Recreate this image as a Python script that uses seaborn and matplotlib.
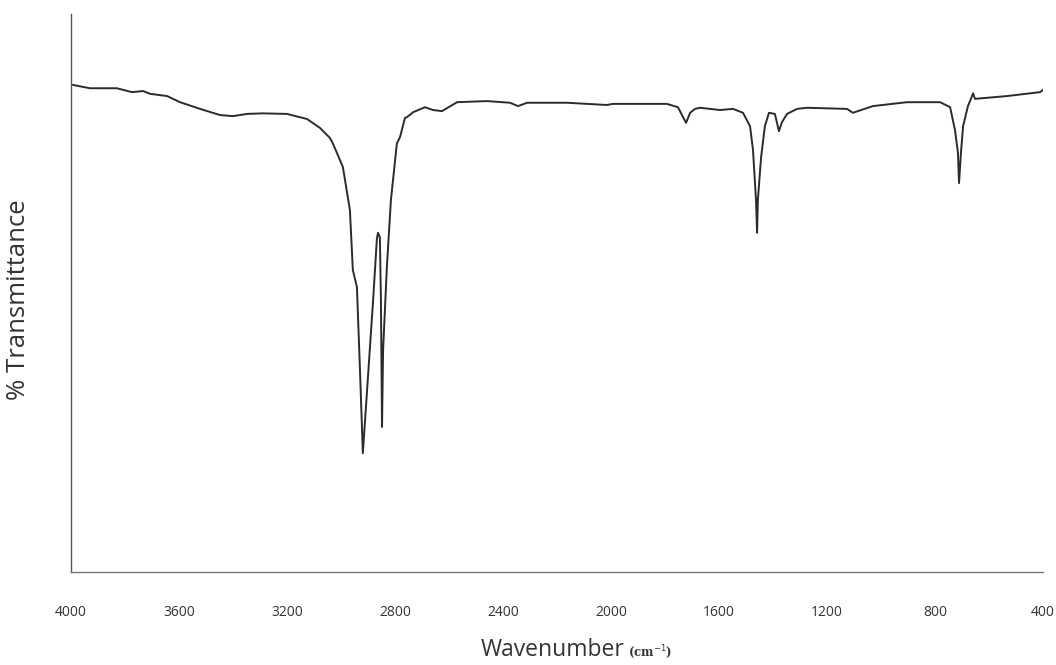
import matplotlib
matplotlib.use("Agg")
import matplotlib.pyplot as plt
import seaborn as sns
import pandas as pd

# IR spectrum (wavenumber in cm^-1, transmittance in %)
wavenumber = [
    3993, 3930, 3830, 3774, 3733, 3707, 3644, 3596, 3522, 3448, 3400, 3348,
    3289, 3200, 3152, 3126, 3078, 3041, 3030, 2993, 2967, 2956, 2941, 2930,
    2919, 2881, 2867, 2863, 2856, 2852, 2848, 2844, 2830, 2815, 2793, 2781,
    2763, 2756, 2733, 2689, 2659, 2626, 2570, 2459, 2374, 2344, 2311, 2163,
    2015, 1993, 1793, 1752, 1722, 1707, 1689, 1670, 1596, 1548, 1511, 1485,
    1474, 1463, 1459, 1456, 1444, 1430, 1415, 1393, 1378, 1367, 1348, 1311,
    1274, 1126, 1104, 1030, 904, 781, 744, 726, 715, 711, 704, 696, 678,
    667, 659, 652, 533, 411, 400,
]
transmittance = [
    87.3, 86.7, 86.7, 86.0, 86.2, 85.7, 85.3, 84.2, 83.0, 81.9, 81.7, 82.1,
    82.2, 82.1, 81.5, 81.2, 79.6, 77.8, 76.8, 72.6, 64.9, 54.1, 51.1, 36.7,
    21.3, 48.7, 59.7, 60.8, 60.0, 48.7, 26.0, 39.8, 54.7, 66.7, 76.8, 78.0,
    81.4, 81.5, 82.4, 83.3, 82.8, 82.6, 84.2, 84.4, 84.1, 83.5, 84.1, 84.1,
    83.7, 83.9, 83.9, 83.3, 80.5, 82.3, 83.0, 83.2, 82.8, 83.0, 82.3, 79.9,
    75.6, 66.7, 60.8, 66.7, 74.4, 79.9, 82.3, 82.1, 79.0, 80.6, 82.1, 83.0,
    83.2, 83.0, 82.3, 83.5, 84.2, 84.2, 83.3, 79.2, 75.1, 69.7, 75.1, 79.9,
    83.5, 84.8, 85.8, 84.8, 85.3, 86.0, 86.4,
]
xtick_values = [4000, 3600, 3200, 2800, 2400, 2000, 1600, 1200, 800, 400]

df = pd.DataFrame({"wavenumber": wavenumber, "transmittance": transmittance})

sns.set_style("white")
plt.rcParams["font.family"] = ["Open Sans", "DejaVu Sans"]

fig = plt.figure(figsize=(10.56, 6.65), dpi=100)
ax = fig.add_axes([0.0672, 0.1398, 0.9205, 0.8391])

sns.lineplot(data=df, x="wavenumber", y="transmittance", ax=ax,
             sort=False, estimator=None, color="#2b2b2b", linewidth=1.4)

ax.set_xlim(4000, 400)
ax.set_ylim(0, 100)
ax.set_xticks(xtick_values)
ax.set_xticklabels([str(v) for v in xtick_values], fontsize=10, color="#333333")
ax.set_yticks([])
ax.tick_params(axis="x", length=0, pad=24)
ax.set_xlabel("")
ax.set_ylabel("")

for side in ("top", "right"):
    ax.spines[side].set_visible(False)
ax.spines["left"].set_color("#555555")
ax.spines["bottom"].set_color("#777777")
ax.spines["left"].set_linewidth(1.0)
ax.spines["bottom"].set_linewidth(1.0)

fig.text(19 / 1056, 1 - 300 / 665, "% Transmittance", rotation=90,
         ha="center", va="center", fontsize=18.5, color="#333333")
fig.text(625 / 1056, 1 - 656 / 665, "Wavenumber", ha="right", va="baseline",
         fontsize=16.5, color="#333333")
fig.text(628 / 1056, 1 - 656 / 665, "(cm$^{-1}$)", ha="left", va="baseline",
         fontsize=8.5, color="#333333", family=["DejaVu Serif"], fontweight="bold")

fig.savefig("out.png", dpi=100)
